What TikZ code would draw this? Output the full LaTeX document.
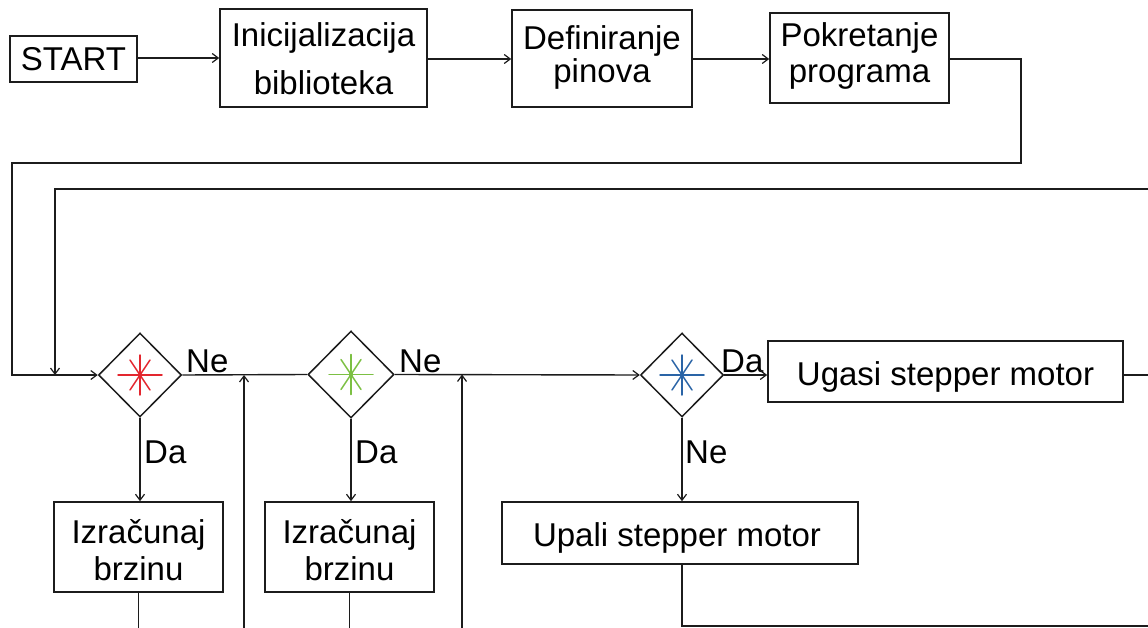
\documentclass[tikz,border=0pt]{standalone}
\usepackage{fontspec}
\setmainfont{Liberation Sans}
\usetikzlibrary{arrows.meta,shapes.geometric}

\definecolor{ink}{HTML}{1C1C1C}
\definecolor{starred}{HTML}{E3262E}
\definecolor{stargreen}{HTML}{7CC043}
\definecolor{starblue}{HTML}{2A64A6}

\tikzset{
  box/.style={draw=ink, line width=1.6pt, rectangle, inner sep=0pt},
  decision/.style={draw=ink, line width=1.5pt, diamond, inner sep=0pt},
  txt/.style={font=\fontsize{33}{38}\selectfont, inner sep=0pt, anchor=base, text=black},
  lbl/.style={font=\fontsize{33}{38}\selectfont, inner sep=0pt, anchor=base west, text=black},
  flow/.style={draw=ink, line width=1.4pt},
  arr/.style={flow, -{Straight Barb[length=6pt,width=9pt,line width=1.2pt]}},
  star/.style={line width=1.5pt, line cap=round}
}

% eight-armed mark drawn inside a decision diamond
\newcommand{\asterisk}[2]{%
  \draw[star,#2] ($(#1)+(-22,0)$) -- ($(#1)+(22,0)$);
  \draw[star,#2] ($(#1)+(0,-20)$) -- ($(#1)+(0,20)$);
  \draw[star,#2] ($(#1)+(-10,-15)$) -- ($(#1)+(10,15)$);
  \draw[star,#2] ($(#1)+(-10,15)$) -- ($(#1)+(10,-15)$);
  \fill[#2] (#1) circle (2.2pt);
}
\usetikzlibrary{calc}

\begin{document}
\begin{tikzpicture}[x=1pt,y=-1pt]
\fill[white] (0,0) rectangle (1148,628);
\useasboundingbox (0,0) rectangle (1148,628);
\clip (0,0) rectangle (1148,628);

% top row
\node[box, minimum width=127pt, minimum height=46pt] (start) at (73.5,59) {};
\node[txt] (start-t) at (73.5,71) {START};

\node[box, minimum width=207pt, minimum height=98pt] (init) at (323.5,58) {};
\node[txt] (init-t1) at (323.5,47) {Inicijalizacija};
\node[txt] (init-t2) at (323.5,95) {biblioteka};

\node[box, minimum width=180pt, minimum height=97pt] (def) at (602,58.5) {};
\node[txt] (def-t1) at (602,50) {Definiranje};
\node[txt] (def-t2) at (602,83) {pinova};

\node[box, minimum width=179pt, minimum height=90pt] (pok) at (859.5,58) {};
\node[txt] (pok-t1) at (859.5,47) {Pokretanje};
\node[txt] (pok-t2) at (859.5,83) {programa};

% decisions
\node[decision, minimum width=83pt, minimum height=84pt] (d1) at (140,375) {};
\node[decision, minimum width=86pt, minimum height=87pt] (d2) at (351,374.5) {};
\node[decision, minimum width=83pt, minimum height=84pt] (d3) at (682,375) {};
\asterisk{d1.center}{starred}
\asterisk{d2.center}{stargreen}
\asterisk{d3.center}{starblue}

% actions
\node[box, minimum width=355pt, minimum height=61pt] (ugasi) at (945.5,371.5) {};
\node[txt] (ugasi-t) at (945.5,385) {Ugasi stepper motor};

\node[box, minimum width=169pt, minimum height=90pt] (iz1) at (138.5,547) {};
\node[txt] (iz1-t1) at (138.5,543) {Izra\v{c}unaj};
\node[txt] (iz1-t2) at (138.5,580) {brzinu};

\node[box, minimum width=169pt, minimum height=90pt] (iz2) at (349.5,547) {};
\node[txt] (iz2-t1) at (349.5,543) {Izra\v{c}unaj};
\node[txt] (iz2-t2) at (349.5,580) {brzinu};

\node[box, minimum width=356pt, minimum height=62pt] (upali) at (680,533) {};
\node[txt] (upali-t) at (677,546) {Upali stepper motor};

% branch labels
\node[lbl] (ne1) at (186,372) {Ne};
\node[lbl] (ne2) at (399,372) {Ne};
\node[lbl] (da3) at (721,372) {Da};
\node[lbl] (da1) at (144,463) {Da};
\node[lbl] (da2) at (355,463) {Da};
\node[lbl] (ne3) at (685,463) {Ne};

% loop and edge points
\coordinate (ra) at (1021,163);
\coordinate (la) at (12,163);
\coordinate (rb) at (1152,189);
\coordinate (lb) at (55,189);
\coordinate (u1) at (244,632);
\coordinate (u2) at (462,632);
\coordinate (e1) at (138.5,632);
\coordinate (e2) at (349.5,632);
\coordinate (e3) at (682,626);
\coordinate (e4) at (1152,626);
\coordinate (e5) at (1152,375);

% connectors
\draw[arr] (start.east |- 0,58) -- (init.west |- 0,58);
\draw[arr] (init.east |- 0,59) -- (def.west |- 0,59);
\draw[arr] (def.east |- 0,59) -- (pok.west |- 0,59);
\draw[arr] (pok.east |- 0,59) -| (ra) -- (la) |- (d1.west);
\draw[arr] (rb) -- (lb) -- (lb |- d1.west);
\draw[flow] (d1.east) -- (d2.west);
\draw[arr] (d2.east) -- (d3.west);
\draw[arr] (u1) -- (u1 |- d1.east);
\draw[arr] (u2) -- (u2 |- d2.east);
\draw[arr] (d1.south) -- (d1.south |- iz1.north);
\draw[arr] (d2.south) -- (d2.south |- iz2.north);
\draw[flow] (iz1.south) -- (e1);
\draw[flow] (iz2.south) -- (e2);
\draw[arr] (d3.east) -- (ugasi.west |- d3.east);
\draw[arr] (d3.south) -- (d3.south |- upali.north);
\draw[flow] (ugasi.east |- d3.east) -- (e5);
\draw[flow] (d3.south |- upali.south) -- (e3) -- (e4);
\end{tikzpicture}
\end{document}
